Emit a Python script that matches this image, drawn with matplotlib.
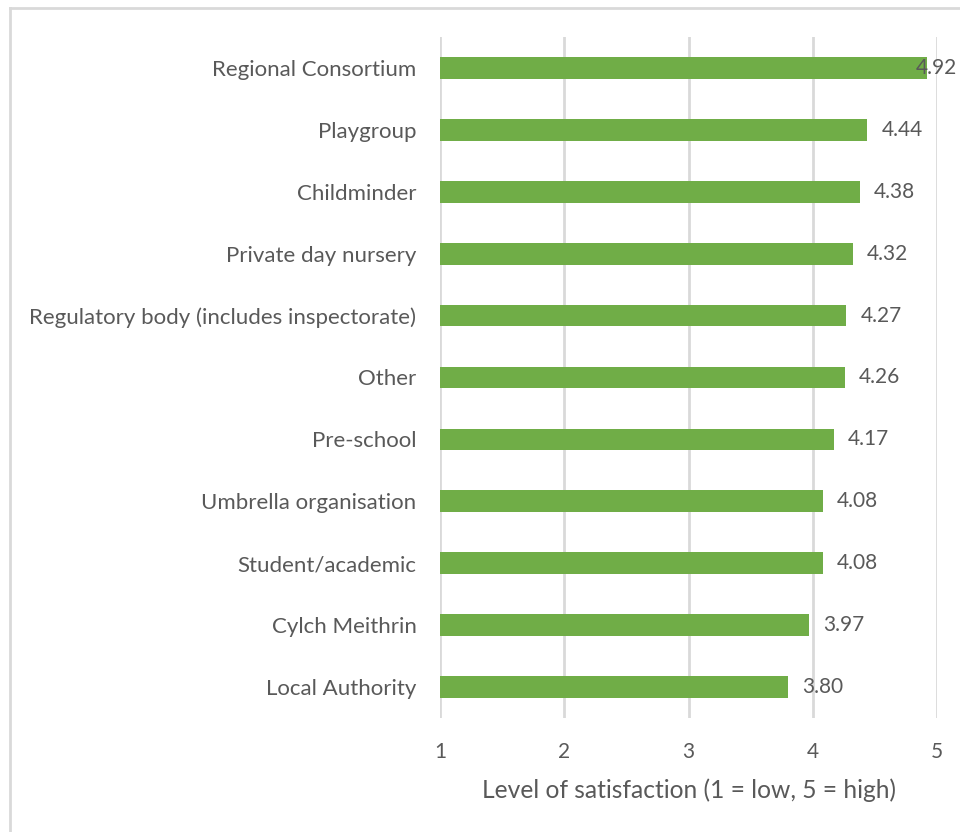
import matplotlib
matplotlib.use("Agg")
import matplotlib.pyplot as plt
from matplotlib.lines import Line2D

categories = [
    "Regional Consortium",
    "Playgroup",
    "Childminder",
    "Private day nursery",
    "Regulatory body (includes inspectorate)",
    "Other",
    "Pre-school",
    "Umbrella organisation",
    "Student/academic",
    "Cylch Meithrin",
    "Local Authority",
]
scores = [4.92, 4.44, 4.38, 4.32, 4.27, 4.26, 4.17, 4.08, 4.08, 3.97, 3.80]
x_ticks = [1, 2, 3, 4, 5]
x_title = "Level of satisfaction (1 = low, 5 = high)"

BAR = "#70AD47"
GRID = "#D9D9D9"
TXT = "#595959"
FONT = "Lato"

plt.rcParams["font.family"] = [FONT, "DejaVu Sans"]

W, H, DPI = 960, 832, 100
fig = plt.figure(figsize=(W / DPI, H / DPI), dpi=DPI)
fig.patch.set_facecolor("white")

# chart-area border (top and left edges visible)
fig.add_artist(Line2D([10 / W, 1.2], [1 - 8 / H] * 2, color="#D9D9D9",
                      lw=2, transform=fig.transFigure))
fig.add_artist(Line2D([10 / W] * 2, [-0.2, 1 - 8 / H], color="#D9D9D9",
                      lw=2, transform=fig.transFigure))

ax = fig.add_axes([440 / W, 1 - 718 / H, (937 - 440) / W, (718 - 37) / H])
ax.set_facecolor("none")

ypos = list(range(len(categories)))
ax.barh(ypos, [s - 1 for s in scores], left=1, height=0.35, color=BAR,
        zorder=3)

ax.set_xlim(1, 5)
ax.set_ylim(len(categories) - 0.5, -0.5)
ax.set_xticks(x_ticks)
ax.set_xticklabels([str(t) for t in x_ticks])
ax.set_yticks(ypos)
ax.set_yticklabels(categories)
ax.tick_params(axis="both", length=0, colors=TXT)
ax.tick_params(axis="x", pad=17, labelsize=15)
ax.tick_params(axis="y", pad=17, labelsize=16)
for lbl in ax.get_xticklabels() + ax.get_yticklabels():
    lbl.set_color(TXT)

for sp in ax.spines.values():
    sp.set_visible(False)
ax.grid(axis="x", color=GRID, lw=2, zorder=0)
ax.set_axisbelow(True)

ax.set_xlabel(x_title, fontsize=17.7, color=TXT, labelpad=12)

# value labels beside each bar; the widest one is pulled back over its bar
for y, s in zip(ypos, scores):
    dx = -11 if s > 4.8 else 14
    ax.annotate(f"{s:.2f}", (s, y), xytext=(dx, 0),
                textcoords="offset pixels", va="center", ha="left",
                fontsize=15, color=TXT, zorder=4)

fig.savefig("out.png", dpi=DPI, facecolor="white")
